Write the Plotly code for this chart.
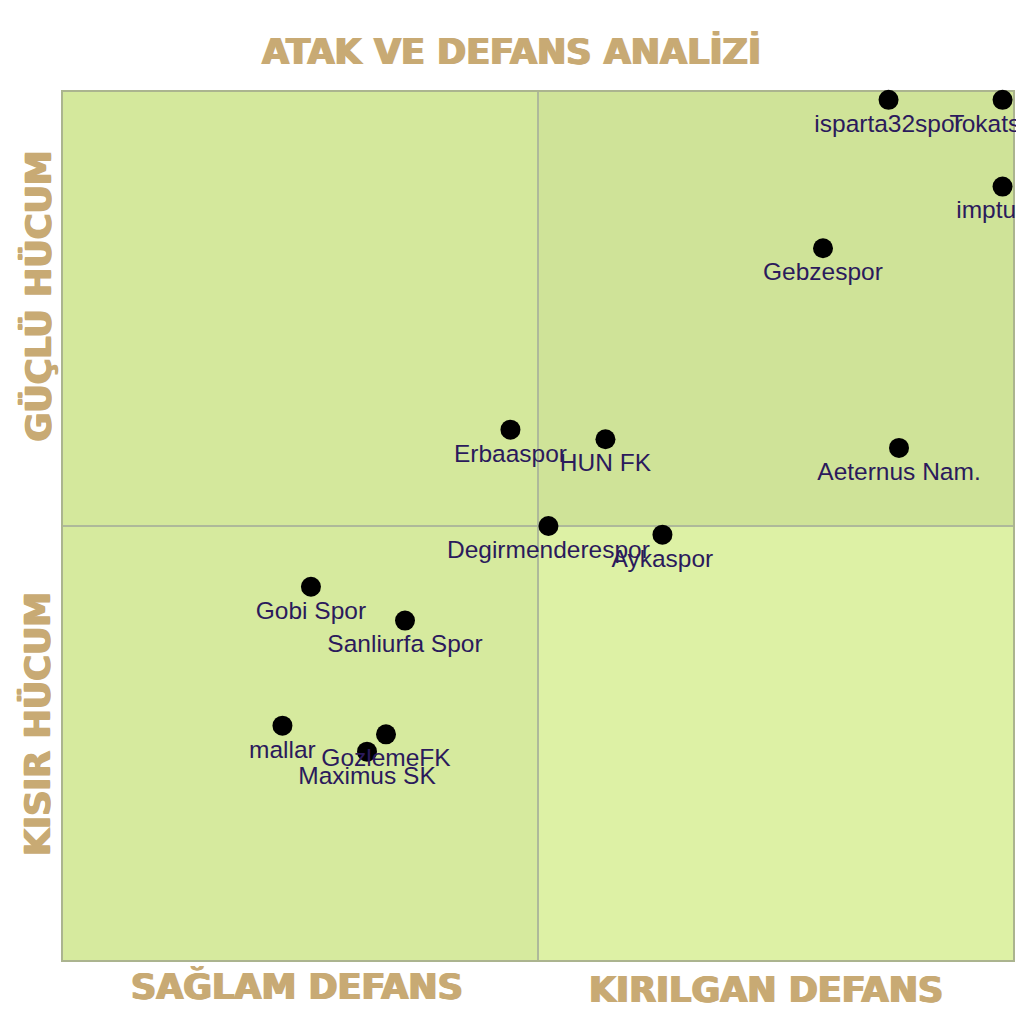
import plotly.graph_objects as go

# takim bazli atak / defans degerleri (0-100 olcek)
teams = ["isparta32spor", "Tokatspor", "imptullar", "Gebzespor", "Aeternus Nam.",
         "HUN FK", "Erbaaspor", "Degirmenderespor", "Aykaspor", "Gobi Spor",
         "Sanliurfa Spor", "mallar", "GozlemeFK", "Maximus SK"]
defans = [86.9, 98.9, 98.9, 80.0, 88.0, 57.1, 47.1, 51.1, 63.1, 26.1, 36.0, 23.1, 34.0, 32.0]
atak = [99.1, 99.1, 89.1, 82.0, 59.0, 60.0, 61.1, 50.0, 49.0, 43.0, 39.1, 27.0, 26.0, 24.0]

x_range = [0, 100]
y_range = [0, 100]
mid_x = 50
mid_y = 50

gold = "#c8aa74"
title_font = dict(family="DejaVu Sans", size=35, color=gold, weight="bold",
                  shadow="1px 0px 0px #c8aa74, -1px 0px 0px #c8aa74")

fig = go.Figure()

quads = [
    (x_range[0], mid_x, mid_y, y_range[1], "#d4e89c"),
    (mid_x, x_range[1], mid_y, y_range[1], "#cfe398"),
    (x_range[0], mid_x, y_range[0], mid_y, "#d6ea9e"),
    (mid_x, x_range[1], y_range[0], mid_y, "#ddf1a5"),
]
for x0, x1, y0, y1, c in quads:
    fig.add_shape(type="rect", x0=x0, x1=x1, y0=y0, y1=y1, xref="x", yref="y",
                  fillcolor=c, line_width=0, layer="below")

fig.add_shape(type="line", x0=mid_x, x1=mid_x, y0=y_range[0], y1=y_range[1],
              line=dict(color="#aeb99a", width=2), layer="below")
fig.add_shape(type="line", x0=x_range[0], x1=x_range[1], y0=mid_y, y1=mid_y,
              line=dict(color="#aeb99a", width=2), layer="below")
# cerceve (paper ref, kirpilmasin)
fig.add_shape(type="rect", x0=0, x1=1, y0=0, y1=1, xref="paper", yref="paper",
              line=dict(color="#abb48f", width=4), layer="below")

fig.add_trace(go.Scatter(
    x=defans, y=atak, text=teams, mode="markers+text",
    textposition="bottom center", cliponaxis=False,
    marker=dict(color="black", size=20),
    textfont=dict(family="Liberation Sans", size=24.5, color="#2b1a5c"),
    hoverinfo="text", showlegend=False,
))

labels = [
    ("ATAK VE DEFANS ANALİZİ", 0.4726, 1.0472, 0),
    ("SAĞLAM DEFANS", 0.2463, -0.0311, 0),
    ("KIRILGAN DEFANS", 0.74, -0.0346, 0),
    ("GÜÇLÜ HÜCUM", -0.0263, 0.7644, -90),
    ("KISIR HÜCUM", -0.0263, 0.2719, -90),
]
for txt, ax, ay, ang in labels:
    fig.add_annotation(text=txt, x=ax, y=ay, xref="paper", yref="paper",
                       xanchor="center", yanchor="middle", textangle=ang,
                       showarrow=False, font=title_font)

fig.update_xaxes(range=x_range, visible=False, fixedrange=True)
fig.update_yaxes(range=y_range, visible=False, fixedrange=True)
fig.update_layout(
    width=1024, height=1024,
    margin=dict(l=55, r=19, t=84, b=72),
    paper_bgcolor="white", plot_bgcolor="white",
)

fig.write_html("out.html")
